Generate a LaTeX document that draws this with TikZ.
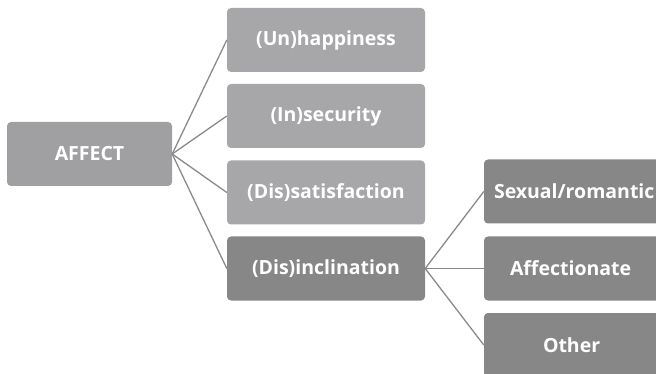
\documentclass[tikz,border=0pt]{standalone}
\usepackage{fontspec}
\setmainfont{Open Sans}
\begin{document}
\begin{tikzpicture}[x=1pt,y=-1pt,
  box/.style={rounded corners=4pt, inner sep=0pt, text=white, font=\fontsize{19.5}{22}\selectfont\bfseries},
  light/.style={box, fill={rgb,255:red,167;green,167;blue,169}},
  dark/.style={box, fill={rgb,255:red,135;green,135;blue,135}},
  root/.style={box, fill={rgb,255:red,160;green,160;blue,162}},
  link/.style={draw={rgb,255:red,138;green,138;blue,138}, line width=1.3pt}]
\useasboundingbox (0,0) rectangle (656,374);
\begin{scope}
\clip (0,0) rectangle (656,374);
\node[root, minimum width=165pt, minimum height=64pt] (affect) at (89.5,154) {AFFECT};
\node[light, minimum width=198pt, minimum height=64pt] (un) at (326,40) {(Un)happiness};
\node[light, minimum width=198pt, minimum height=64pt] (in) at (326,116) {(In)security};
\node[light, minimum width=198pt, minimum height=64pt] (dis) at (326,192.5) {(Dis)satisfaction};
\node[dark, minimum width=198pt, minimum height=64pt] (incl) at (326,268.5) {(Dis)inclination};
\node[dark, minimum width=200pt, minimum height=64pt, text width=180pt, align=left] (sex) at (584,191.5) {Sexual/romantic};
\node[dark, minimum width=200pt, minimum height=64pt, text width=180pt, align=left] (aff) at (584,268.5) {\hspace*{16pt}Affectionate};
\node[dark, minimum width=200pt, minimum height=64pt, text width=180pt, align=left] (oth) at (584,345) {\hspace*{49pt}Other};
\end{scope}
\draw[link] (affect.east) -- (un.west);
\draw[link] (affect.east) -- (in.west);
\draw[link] (affect.east) -- (dis.west);
\draw[link] (affect.east) -- (incl.west);
\draw[link] (incl.east) -- (sex.west);
\draw[link] (incl.east) -- (aff.west);
\draw[link] (incl.east) -- (oth.west);
\end{tikzpicture}
\end{document}
